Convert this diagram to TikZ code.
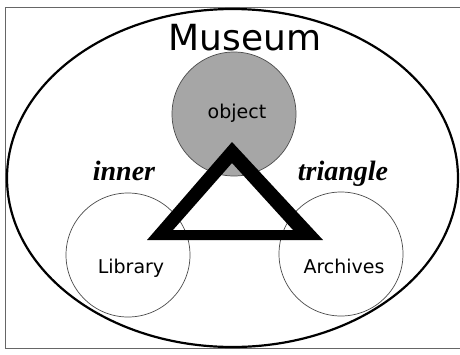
\documentclass[tikz,border=0pt]{standalone}
\usepackage{fontspec}
\setmainfont{DejaVu Sans}
\newfontfamily\serifbi{Liberation Serif}
\begin{document}
\begin{tikzpicture}[x=1pt,y=-1pt,
  lbl/.style={font=\fontsize{19}{21}\selectfont, anchor=base, inner sep=0pt},
  ital/.style={font=\serifbi\bfseries\itshape\fontsize{28}{30}\selectfont, anchor=base, inner sep=0pt},
  ring/.style={circle, draw=black!70, line width=0.7pt, minimum size=124pt, inner sep=0pt}]
\useasboundingbox (0,0) rectangle (460,354);
\fill[white] (0,0) rectangle (460,354);
% frame
\draw[black!60, line width=1pt] (461,7) -- (5,7) -- (5,348) -- (461,348);
% museum ellipse
\draw[line width=2.2pt] (232.5,178) ellipse [x radius=225.5, y radius=169];
% circles
\node[ring, fill=black!35] (obj) at (234,114) {};
\node[ring] (lib) at (128,255) {};
\node[ring] (arc) at (341,254) {};
% inner triangle
\coordinate (A) at (232,142);
\coordinate (B) at (147,240);
\coordinate (C) at (323,240);
\coordinate (a) at (232,163);
\coordinate (b) at (173,230);
\coordinate (c) at (293,230);
\fill[black, even odd rule] (A) -- (B) -- (C) -- cycle (a) -- (b) -- (c) -- cycle;
% texts
\node[anchor=base, inner sep=0pt, font=\fontsize{36}{40}\selectfont] (mus) at (245,50) {Museum};
\node[lbl] (objt) at (237,118) {object};
\node[lbl] (libt) at (131,273) {Library};
\node[lbl] (arct) at (344,273) {Archives};
\node[ital] (inn) at (124,180) {inner};
\node[ital] (tri) at (343,180) {triangle};
\end{tikzpicture}
\end{document}
